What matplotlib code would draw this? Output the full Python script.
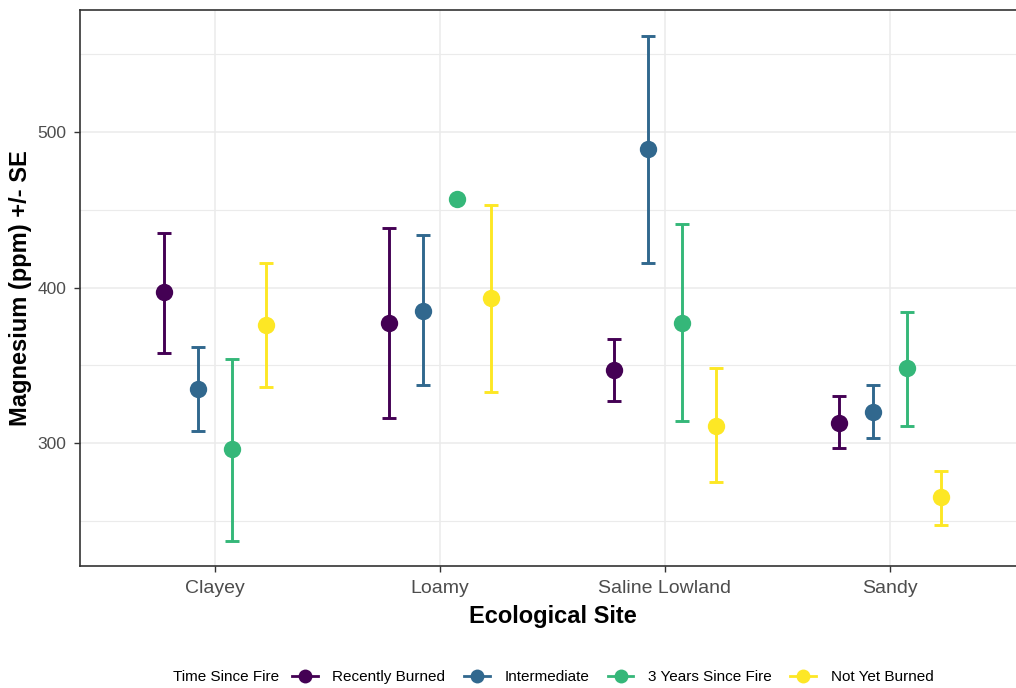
import numpy as np
import matplotlib
matplotlib.use("Agg")
import matplotlib.pyplot as plt
from matplotlib.lines import Line2D

plt.rcParams["font.family"] = ["Liberation Sans", "DejaVu Sans"]

sites = ["Clayey", "Loamy", "Saline Lowland", "Sandy"]
groups = ["Recently Burned", "Intermediate", "3 Years Since Fire", "Not Yet Burned"]
colors = ["#440154", "#31688E", "#35B779", "#FDE725"]

# mean magnesium per site (rows = groups, cols = sites)
mean = {
    "Recently Burned":    [397, 377, 347, 313],
    "Intermediate":       [335, 385, 489, 320],
    "3 Years Since Fire": [296, 457, 377, 348],
    "Not Yet Burned":     [376, 393, 311, 265],
}
# lower / upper ends of the +/- SE bars (None = single sample, no bar)
lower = {
    "Recently Burned":    [358, 316, 327, 297],
    "Intermediate":       [308, 337, 416, 303],
    "3 Years Since Fire": [237, None, 314, 311],
    "Not Yet Burned":     [336, 333, 275, 247],
}
upper = {
    "Recently Burned":    [435, 438, 367, 330],
    "Intermediate":       [362, 434, 562, 337],
    "3 Years Since Fire": [354, None, 441, 384],
    "Not Yet Burned":     [416, 453, 348, 282],
}

W, H = 1016, 688
fig = plt.figure(figsize=(W / 100, H / 100), dpi=100)
ax = fig.add_axes([80 / W, 1 - 566 / H, (1025 - 80) / W, (566 - 10) / H])

dodge = 0.15
for j, g in enumerate(groups):
    for i, s in enumerate(sites):
        x = i + (j - 1.5) * dodge
        m = mean[g][i]
        lo, hi = lower[g][i], upper[g][i]
        if lo is not None:
            ax.errorbar(x, m, yerr=[[m - lo], [hi - m]], fmt="none",
                        ecolor=colors[j], elinewidth=2.1, capsize=5,
                        capthick=2.1, zorder=3)
        ax.plot(x, m, "o", color=colors[j], markersize=12.5,
                markeredgewidth=0, zorder=4)

ax.set_xlim(-0.6, 3.6)
ax.set_ylim(220.9, 578.5)
ax.set_xticks(range(len(sites)))
ax.set_xticklabels(sites)
ax.set_yticks([300, 400, 500])
ax.set_yticks([250, 350, 450, 550], minor=True)
ax.tick_params(axis="both", which="major", colors="#333333",
               labelcolor="#4d4d4d", length=4, width=1)
ax.tick_params(axis="y", labelsize=12.5, pad=6)
ax.tick_params(axis="x", labelsize=14, pad=6)
ax.tick_params(axis="both", which="minor", length=0)

ax.grid(True, which="major", color="#ebebeb", linewidth=1.1, zorder=0)
ax.grid(True, which="minor", axis="y", color="#ebebeb", linewidth=0.8, zorder=0)
ax.set_axisbelow(True)
for sp in ax.spines.values():
    sp.set_color("#333333")
    sp.set_linewidth(1.2)

ax.set_xlabel("Ecological Site", fontsize=17, fontweight="bold", labelpad=6)
ax.set_ylabel("Magnesium (ppm) +/- SE", fontsize=17, fontweight="bold", labelpad=4)

# legend along the bottom, title on the left
handles = [Line2D([0], [0], color=c, marker="o", markersize=10, linewidth=2,
                  markeredgewidth=0) for c in colors]
fig.text(173 / W, 1 - 677 / H, "Time Since Fire", fontsize=11, va="center", ha="left")
fig.legend(handles, groups, loc="center left", ncol=4, frameon=False,
           bbox_to_anchor=(292 / W, 1 - 677 / H), fontsize=11,
           handlelength=1.7, handletextpad=0.95, columnspacing=1.2,
           borderaxespad=0, borderpad=0)

fig.savefig("out.png", dpi=100)
